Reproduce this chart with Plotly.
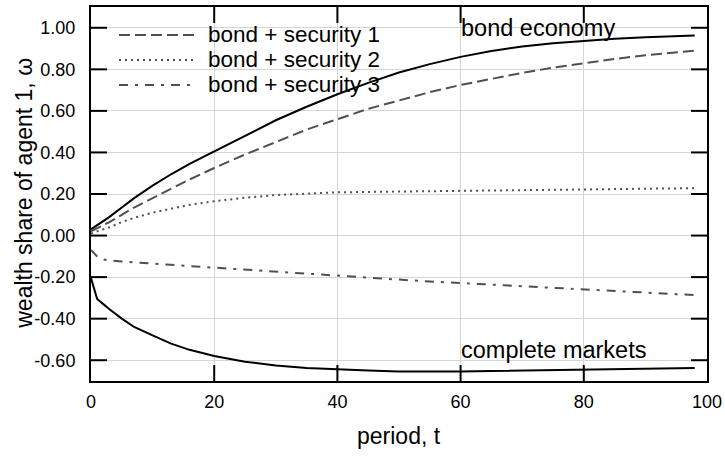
import plotly.graph_objects as go

# ---- data ----
t = [0, 1, 2, 3, 5, 7, 10, 13, 16, 20, 25, 30, 35, 40, 45, 50, 55, 60, 65, 70, 75, 80, 85, 90, 95, 98]

bond_economy = [0.03, 0.05, 0.07, 0.09, 0.135, 0.18, 0.24, 0.295, 0.345, 0.405, 0.48, 0.555, 0.62, 0.68,
                0.735, 0.785, 0.825, 0.86, 0.888, 0.91, 0.925, 0.937, 0.947, 0.955, 0.96, 0.963]
security_1 = [0.02, 0.035, 0.05, 0.065, 0.10, 0.135, 0.18, 0.225, 0.27, 0.325, 0.39, 0.45, 0.51, 0.56,
              0.61, 0.65, 0.69, 0.725, 0.755, 0.783, 0.808, 0.83, 0.85, 0.868, 0.882, 0.89]
security_2 = [0.01, 0.02, 0.03, 0.04, 0.065, 0.085, 0.11, 0.13, 0.148, 0.165, 0.182, 0.195, 0.203, 0.208,
              0.21, 0.212, 0.213, 0.215, 0.216, 0.218, 0.22, 0.221, 0.223, 0.225, 0.227, 0.228]
security_3 = [-0.07, -0.10, -0.115, -0.12, -0.125, -0.13, -0.135, -0.141, -0.147, -0.155, -0.165, -0.175,
              -0.185, -0.194, -0.203, -0.212, -0.221, -0.229, -0.237, -0.245, -0.253, -0.26, -0.267,
              -0.275, -0.282, -0.286]
complete_markets = [-0.205, -0.305, -0.33, -0.355, -0.40, -0.44, -0.48, -0.52, -0.55, -0.58, -0.607, -0.625,
                    -0.637, -0.645, -0.65, -0.654, -0.655, -0.654, -0.652, -0.65, -0.648, -0.646, -0.644,
                    -0.641, -0.639, -0.637]

legend_names = ["bond + security 1", "bond + security 2", "bond + security 3"]
x_ticks = [0, 20, 40, 60, 80, 100]
y_ticks = [-0.6, -0.4, -0.2, 0.0, 0.2, 0.4, 0.6, 0.8, 1.0]
y_ticklabels = ["-0.60", "-0.40", "-0.20", "0.00", "0.20", "0.40", "0.60", "0.80", "1.00"]

FONT = "Liberation Sans, Arial, Helvetica, sans-serif"
GRAY = "#505050"
dashes = ["11px,5px", "2px,4px", "9px,7px,3px,7px"]
X_RANGE = [0, 100]
Y_RANGE = [-0.7, 1.1]

fig = go.Figure()
fig.add_trace(go.Scatter(x=t, y=bond_economy, mode="lines", name="bond economy",
                         line=dict(color="black", width=2), showlegend=False))
for name, ys, d in zip(legend_names, [security_1, security_2, security_3], dashes):
    fig.add_trace(go.Scatter(x=t, y=ys, mode="lines", name=name,
                             line=dict(color=GRAY, width=2, dash=d), showlegend=False))
fig.add_trace(go.Scatter(x=t, y=complete_markets, mode="lines", name="complete markets",
                         line=dict(color="black", width=2), showlegend=False))

# plot area geometry (pixels) used to place the legend block and the inward ticks
L, R, T, B = 91, 707, 7, 381.5
W, H = R - L, B - T
def px(x):
    return (x - L) / W
def py(y):
    return (B - y) / H
TICK = 16  # px, gnuplot-style inward ticks on all four sides
dx = TICK / W * (X_RANGE[1] - X_RANGE[0])
dy = TICK / H * (Y_RANGE[1] - Y_RANGE[0])

# inward tick marks on all four sides, built from the tick arrays
tx, ty = [], []
for v in y_ticks:
    tx += [X_RANGE[0], X_RANGE[0] + dx, None, X_RANGE[1] - dx, X_RANGE[1], None]
    ty += [v, v, None, v, v, None]
for v in x_ticks[1:-1]:
    tx += [v, v, None, v, v, None]
    ty += [Y_RANGE[0], Y_RANGE[0] + dy, None, Y_RANGE[1] - dy, Y_RANGE[1], None]
fig.add_trace(go.Scatter(x=tx, y=ty, mode="lines", line=dict(color="black", width=2),
                         hoverinfo="skip", showlegend=False, name="ticks"))

shapes = [dict(type="rect", xref="paper", yref="paper", x0=0, x1=px(453), y0=py(97), y1=1,
               fillcolor="white", line=dict(width=0), layer="between")]
annotations = []
for i, (name, d) in enumerate(zip(legend_names, dashes)):
    yy = py(35 + 25 * i)
    shapes.append(dict(type="line", xref="paper", yref="paper", x0=px(119), x1=px(194), y0=yy, y1=yy,
                       line=dict(color=GRAY, width=2, dash=d)))
    annotations.append(dict(xref="paper", yref="paper", x=px(206), y=yy, text=name, showarrow=False,
                            xanchor="left", yanchor="middle", font=dict(size=22.5, color="black", family=FONT)))

annotations.append(dict(x=60, y=1.0, xref="x", yref="y", text="bond economy", showarrow=False,
                        xanchor="left", yanchor="middle", xshift=-2,
                        font=dict(size=23.5, color="black", family=FONT)))
annotations.append(dict(x=60, y=-0.55, xref="x", yref="y", text="complete markets", showarrow=False,
                        xanchor="left", yanchor="middle", xshift=-2,
                        font=dict(size=23.5, color="black", family=FONT)))
# axis titles
annotations.append(dict(xref="paper", yref="paper", x=0.5, y=py(437), text="period, t", showarrow=False,
                        xanchor="center", yanchor="middle", font=dict(size=23, color="black", family=FONT)))
annotations.append(dict(xref="paper", yref="paper", x=px(24), y=py(194), text="wealth share of agent 1, ω",
                        showarrow=False, textangle=-90, xanchor="center", yanchor="middle",
                        font=dict(size=23, color="black", family=FONT)))

fig.update_layout(
    template="none",
    width=725, height=456,
    margin=dict(l=L, r=725 - R, t=T, b=456 - B),
    paper_bgcolor="white", plot_bgcolor="white",
    font=dict(family=FONT, color="black"),
    shapes=shapes, annotations=annotations,
    showlegend=False,
)
fig.update_xaxes(range=X_RANGE, tickvals=x_ticks, ticktext=[str(v) for v in x_ticks],
                 showgrid=True, gridcolor="#d4d4d4", gridwidth=1, zeroline=False,
                 showline=True, linecolor="black", linewidth=2, mirror=True,
                 ticks="", tickfont=dict(size=18, family=FONT), ticklabelstandoff=3)
fig.update_yaxes(range=Y_RANGE, tickvals=y_ticks, ticktext=y_ticklabels,
                 showgrid=True, gridcolor="#d4d4d4", gridwidth=1, zeroline=False,
                 showline=True, linecolor="black", linewidth=2, mirror=True,
                 ticks="", tickfont=dict(size=18, family=FONT), ticklabelstandoff=10)

fig.write_html("out.html")
